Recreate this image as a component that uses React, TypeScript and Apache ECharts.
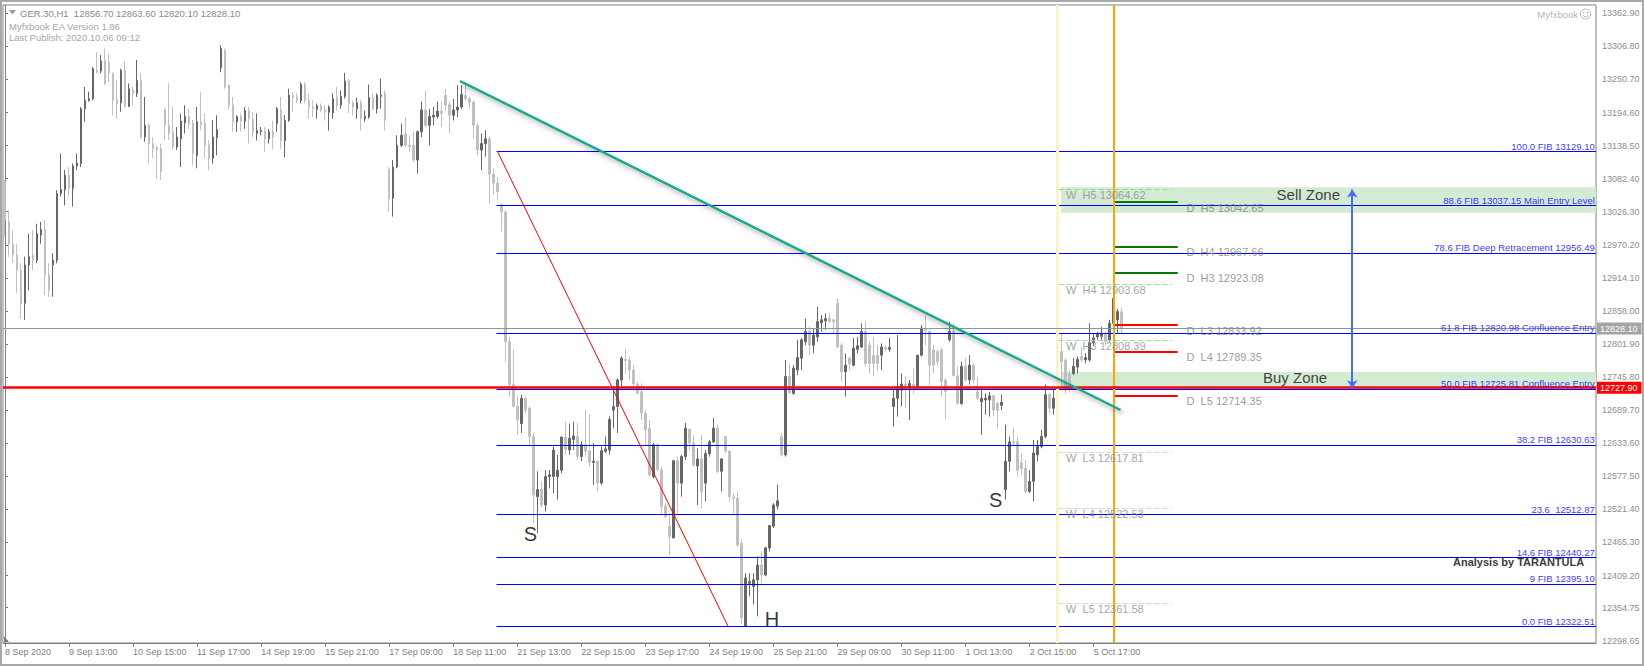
import React, { useEffect, useRef } from 'react';
import * as echarts from 'echarts';

// ---------- DATA ----------
const symbolName = 'GER.30,H1';
const eaVersion = 'Myfxbook EA Version 1.86';
const lastPublish = 'Last Publish: 2020.10.06 09:12';

// hourly candles: [open, close, low, high]
const ohlc: number[][] = [
  [13077,13012,12984,13080],[13009,12972,12950,13029],[12972,12953,12939,12995],[12953,12927,12888,12972],[12927,12871,12845,12939],[12871,12936,12843,12950],[12936,12950,12893,12989],[12953,12944,12927,12995],[12944,12989,12939,13006],[12987,12996,12972,13009],
  [12996,12919,12885,13012],[12919,12893,12882,12939],[12936,12944,12882,12956],[12944,13057,12939,13063],[13057,13064,13052,13125],[13064,13088,13037,13097],[13088,13066,13052,13102],[13066,13104,13035,13108],[13104,13109,13097,13125],[13108,13201,13102,13204],
  [13201,13215,13179,13238],[13215,13218,13213,13230],[13218,13269,13215,13272],[13267,13263,13261,13297],[13265,13282,13261,13292],[13283,13244,13241,13303],[13279,13262,13246,13294],[13261,13215,13190,13263],[13217,13210,13184,13249],[13211,13266,13196,13269],
  [13266,13205,13203,13282],[13205,13235,13204,13244],[13233,13227,13207,13238],[13227,13249,13221,13284],[13249,13153,13150,13261],[13153,13173,13145,13221],[13173,13142,13108,13176],[13142,13133,13117,13153],[13135,13132,13083,13139],[13133,13094,13080,13142],
  [13200,13173,13148,13203],[13173,13159,13148,13244],[13162,13136,13131,13204],[13136,13153,13131,13170],[13150,13180,13102,13193],[13177,13188,13159,13207],[13188,13175,13167,13201],[13177,13125,13105,13182],[13122,13179,13100,13204],[13179,13173,13165,13230],
  [13177,13139,13117,13193],[13139,13117,13097,13148],[13117,13153,13108,13182],[13152,13166,13122,13190],[13271,13303,13263,13309],[13300,13238,13235,13303],[13241,13207,13201,13243],[13207,13179,13162,13221],[13179,13188,13162,13190],[13188,13180,13162,13193],
  [13180,13198,13167,13204],[13198,13184,13142,13204],[13184,13162,13153,13195],[13159,13164,13147,13193],[13162,13164,13156,13170],[13164,13150,13128,13170],[13150,13162,13142,13167],[13162,13153,13133,13181],[13176,13201,13162,13204],[13199,13147,13133,13221],
  [13147,13181,13119,13190],[13181,13224,13179,13235],[13224,13220,13195,13229],[13221,13215,13210,13227],[13215,13242,13210,13246],[13242,13215,13210,13246],[13215,13204,13184,13227],[13205,13201,13187,13215],[13200,13206,13184,13210],[13206,13198,13195,13210],
  [13199,13195,13181,13207],[13195,13204,13164,13207],[13194,13218,13184,13227],[13220,13206,13198,13238],[13207,13222,13201,13232],[13222,13248,13218,13262],[13249,13210,13193,13252],[13211,13203,13190,13215],[13201,13211,13184,13220],[13211,13184,13164,13216],
  [13184,13188,13179,13198],[13187,13220,13184,13242],[13220,13201,13198,13227],[13201,13224,13193,13227],[13222,13224,13201,13252],[13227,13181,13164,13232],[13098,13049,13026,13102],[13049,13102,13018,13114],[13102,13139,13100,13156],[13139,13156,13136,13176],
  [13158,13139,13136,13187],[13139,13137,13128,13156],[13139,13114,13111,13162],[13114,13162,13091,13164],[13162,13199,13153,13213],[13199,13173,13170,13232],[13173,13188,13139,13201],[13187,13190,13173,13204],[13188,13197,13184,13213],[13197,13193,13170,13213],
  [13224,13207,13198,13235],[13208,13190,13159,13213],[13190,13199,13181,13218],[13199,13204,13187,13241],[13204,13225,13201,13241],[13224,13218,13215,13241],[13218,13211,13201,13221],[13212,13173,13150,13215],[13173,13131,13122,13176],[13131,13142,13097,13159],
  [13142,13150,13120,13165],[13150,13090,13040,13155],[13090,13075,13055,13100],[13075,13060,13045,13085],[13038,13026,12992,13040],[13026,12806,12772,13029],[12806,12733,12713,12814],[12733,12696,12696,12792],[12696,12673,12648,12713],[12667,12710,12651,12716],
  [12710,12690,12685,12713],[12693,12645,12628,12696],[12645,12546,12498,12651],[12543,12555,12481,12586],[12555,12529,12524,12569],[12529,12577,12518,12588],[12577,12580,12557,12588],[12577,12622,12549,12628],[12577,12588,12538,12614],[12588,12644,12583,12645],
  [12644,12623,12614,12670],[12622,12642,12614,12667],[12640,12646,12622,12670],[12645,12611,12605,12668],[12611,12631,12603,12637],[12631,12620,12611,12690],[12621,12601,12594,12682],[12601,12603,12563,12634],[12603,12566,12552,12605],[12566,12621,12563,12628],
  [12620,12624,12617,12645],[12622,12674,12614,12679],[12690,12696,12659,12730],[12696,12741,12651,12744],[12741,12778,12730,12781],[12776,12774,12752,12793],[12775,12758,12741,12781],[12758,12734,12730,12766],[12734,12718,12718,12738],[12721,12685,12673,12735],
  [12685,12656,12631,12690],[12659,12580,12577,12673],[12577,12631,12574,12634],[12631,12589,12586,12634],[12589,12526,12515,12594],[12527,12509,12507,12532],[12492,12475,12444,12515],[12473,12604,12473,12605],[12604,12566,12515,12611],[12566,12611,12543,12614],
  [12611,12659,12605,12668],[12657,12634,12622,12659],[12634,12597,12594,12648],[12595,12607,12529,12625],[12607,12552,12523,12648],[12566,12616,12535,12622],[12616,12636,12611,12639],[12636,12659,12634,12676],[12659,12586,12583,12665],[12586,12607,12552,12608],
  [12645,12620,12617,12646],[12620,12543,12535,12622],[12542,12540,12515,12549],[12540,12461,12458,12552],[12464,12337,12326,12470],[12323,12405,12322.5,12413],[12396,12399,12374,12413],[12391,12402,12360,12413],[12402,12427,12340,12442],[12427,12410,12396,12450],
  [12410,12456,12408,12458],[12456,12494,12450,12495],[12493,12529,12490,12532],[12527,12536,12521,12563],[12645,12614,12611,12651],[12614,12747,12611,12775],[12747,12719,12718,12769],[12718,12761,12716,12766],[12758,12779,12749,12809],[12778,12809,12758,12812],
  [12806,12823,12800,12845],[12823,12800,12783,12831],[12800,12817,12786,12829],[12814,12840,12806,12865],[12838,12843,12823,12851],[12841,12845,12826,12854],[12845,12840,12837,12854],[12843,12840,12820,12843],[12871,12797,12795,12879],[12800,12755,12738,12803],
  [12755,12766,12713,12786],[12778,12768,12758,12780],[12766,12795,12764,12812],[12793,12799,12786,12814],[12797,12823,12795,12837],[12823,12769,12764,12840],[12800,12769,12752,12806],[12783,12769,12747,12814],[12783,12769,12755,12800],[12783,12797,12758,12803],
  [12796,12793,12789,12800],[12793,12796,12789,12812],[12696,12710,12662,12724],[12710,12724,12679,12817],[12724,12734,12696,12752],[12734,12730,12693,12747],[12730,12735,12673,12741],[12734,12729,12718,12761],[12730,12783,12727,12783],[12783,12829,12781,12834],
  [12827,12825,12800,12851],[12823,12766,12732,12826],[12792,12766,12752,12800],[12789,12772,12764,12792],[12792,12738,12713,12795],[12741,12721,12676,12744],[12809,12823,12806,12840],[12823,12748,12747,12837],[12748,12701,12699,12764],[12701,12764,12699,12772],
  [12764,12741,12738,12778],[12741,12766,12733,12783],[12766,12741,12735,12769],[12721,12710,12707,12746],[12704,12710,12648,12727],[12707,12710,12682,12718],[12707,12714,12679,12721],[12714,12690,12679,12716],[12701,12689,12659,12704],[12698,12703,12690,12716],
  [12555,12603,12538,12665],[12603,12636,12586,12645],[12636,12634,12630,12660],[12636,12588,12577,12645],[12600,12591,12580,12617],[12591,12552,12549,12605],[12552,12569,12549,12588],[12569,12617,12535,12639],[12614,12628,12603,12639],[12628,12645,12625,12656],
  [12645,12716,12642,12733],[12716,12693,12684,12719],[12693,12710,12682,12727],[12710,12716,12684,12724],[12789,12772,12724,12820],[12775,12724,12718,12778],[12752,12730,12721,12758],[12752,12764,12749,12778],[12763,12776,12752,12781],[12781,12775,12772,12797],
  [12775,12779,12769,12786],[12775,12804,12772,12837],[12804,12812,12800,12820],[12814,12820,12809,12823],[12815,12820,12809,12831],[12820,12806,12800,12823],[12809,12837,12806,12843],[12837,12879,12831,12882],[12843,12857,12820,12861],[12856.7,12828.1,12820.1,12863.6],
];

const xTickLabels = [
  '8 Sep 2020', '9 Sep 13:00', '10 Sep 15:00', '11 Sep 17:00', '14 Sep 19:00', '15 Sep 21:00',
  '17 Sep 09:00', '18 Sep 11:00', '21 Sep 13:00', '22 Sep 15:00', '23 Sep 17:00', '24 Sep 19:00',
  '25 Sep 21:00', '29 Sep 09:00', '30 Sep 11:00', '1 Oct 13:00', '2 Oct 15:00', '5 Oct 17:00',
];
const yTicks = [
  13362.9, 13306.8, 13250.7, 13194.6, 13138.5, 13082.4, 13026.3, 12970.2, 12914.1, 12858.0,
  12801.9, 12745.8, 12689.7, 12633.6, 12577.5, 12521.4, 12465.3, 12409.2, 12354.75, 12298.65,
];

const fibLabels = [
  '100.0 FIB 13129.10', '88.6 FIB 13037.15 Main Entry Level', '78.6 FIB Deep Retracement 12956.49',
  '61.8 FIB 12820.98 Confluence Entry', '50.0 FIB 12725.81 Confluence Entry', '38.2 FIB 12630.63',
  '23.6  12512.87', '14.6 FIB 12440.27', '9 FIB 12395.10', '0.0 FIB 12322.51',
];
const fibPrices = [13129.1, 13037.15, 12956.49, 12820.98, 12725.81, 12630.63, 12512.87, 12440.27, 12395.1, 12322.51];

const dailyPivotNames = ['H5', 'H4', 'H3', 'L3', 'L4', 'L5'];
const dailyPivotPrices = [13042.65, 12967.66, 12923.08, 12833.92, 12789.35, 12714.35];
const weeklyPivotNames = ['H5', 'H4', 'H3', 'L3', 'L4', 'L5'];
const weeklyPivotPrices = [13064.62, 12903.68, 12808.39, 12617.81, 12522.53, 12361.58];

const lastPrice = 12828.1;
const keyLevel = 12727.9;

// zones [top, bottom] prices
const sellZone = [13067.7, 13024.7];
const buyZone = [12754.9, 12723.9];
// drawn lines in (bar index, price)
const trendLine = [[113.7, 13248], [278.7, 12690]];
const fibSwing = [[123.0, 13129.1], [180.7, 12322.51]];
const zoneArrow = [[336.6, 13064], [336.6, 12727]];
// pattern marks: [bar index, price, text]
const patternMarks: [number, number, string][] = [
  [131.3, 12479.6, 'S'],
  [191.6, 12336.3, 'H'],
  [247.5, 12536.8, 'S'],
];

// ---------- LAYOUT ----------
const SLOTS = 398;
const X_END = SLOTS - 0.5;
const Y_MIN = 12294.75;
const Y_MAX = 13377.0;
const FIB_START = 122.8;
const DAY_SEP = 262.8;
const NOW_LINE = 276.9;
const ZONE_LEFT = 263.8;
const D_RANGE = [276.9, 293.0];
const D_LABEL_X = 295.2;
const W_RANGE = [263.2, 291.5];
const W_LABEL_X = 265.1;
const SELL_TEXT = [317.7, 13054.7];
const BUY_TEXT = [314.3, 12744.3];

const FONT = '"Liberation Sans", Arial, sans-serif';

function buildOption() {
  const categories = Array.from({ length: SLOTS }, (_, i) => String(i));
  const tickInterval = (i: number) => i % 16 === 0 && i / 16 < xTickLabels.length;
  const last = ohlc[ohlc.length - 1];
  const header = `${symbolName}  ${last[0].toFixed(2)} ${last[3].toFixed(2)} ${last[2].toFixed(2)} ${last[1].toFixed(2)}`;

  const segs: any[] = [];
  fibPrices.forEach((p) => {
    segs.push([{ coord: [FIB_START, p], lineStyle: { color: '#0000ff', width: 1, type: 'solid' } }, { coord: [X_END, p] }]);
  });
  weeklyPivotPrices.forEach((p, i) => {
    const isH = weeklyPivotNames[i].startsWith('H');
    segs.push([{ coord: [W_RANGE[0], p], lineStyle: { color: isH ? '#8fe08f' : '#ffc4c4', width: 1, type: [5, 3] } }, { coord: [W_RANGE[1], p] }]);
  });
  dailyPivotPrices.forEach((p, i) => {
    const isH = dailyPivotNames[i].startsWith('H');
    segs.push([{ coord: [D_RANGE[0], p], lineStyle: { color: isH ? '#007a00' : '#ff0000', width: 2, type: 'solid' } }, { coord: [D_RANGE[1], p] }]);
  });
  segs.push({ xAxis: DAY_SEP, lineStyle: { color: '#fbf5c6', width: 3, type: 'solid' } });
  segs.push({ xAxis: NOW_LINE, lineStyle: { color: '#ffa500', width: 2, type: 'solid' } });
  segs.push({
    yAxis: lastPrice,
    lineStyle: { color: '#8797a7', width: 1, type: 'solid' },
    label: { show: true, position: 'end', distance: 1, formatter: lastPrice.toFixed(2), backgroundColor: '#a4a4a4', color: '#ffffff', fontSize: 9, fontFamily: FONT, padding: [2, 4, 1, 3] },
  });
  segs.push({
    yAxis: keyLevel,
    lineStyle: { color: '#ff0000', width: 2.5, type: 'solid' },
    label: { show: true, position: 'end', distance: 1, formatter: keyLevel.toFixed(2), backgroundColor: '#ff0000', color: '#ffffff', fontSize: 9, fontFamily: FONT, padding: [2, 4, 1, 3] },
  });
  segs.push([{ coord: fibSwing[0], lineStyle: { color: '#ff0000', width: 1, type: 'solid' } }, { coord: fibSwing[1] }]);
  segs.push([
    { coord: trendLine[0], lineStyle: { color: '#1aa88c', width: 2.5, type: 'solid', shadowColor: 'rgba(0,0,0,0.35)', shadowBlur: 4, shadowOffsetX: 2, shadowOffsetY: 3 } },
    { coord: trendLine[1] },
  ]);

  const texts: any[] = [];
  const addText = (x: number, y: number, text: string, o: any) => {
    texts.push({
      value: [x, y],
      label: { show: true, position: 'inside', formatter: text, fontFamily: FONT, textBorderWidth: 0, ...o },
    });
  };
  fibPrices.forEach((p, i) => addText(X_END - 0.3, p, fibLabels[i], { align: 'right', verticalAlign: 'bottom', color: '#0000ff', fontSize: 9.5 }));
  dailyPivotPrices.forEach((p, i) => addText(D_LABEL_X, p, `D  ${dailyPivotNames[i]} ${p.toFixed(2)}`, { align: 'left', verticalAlign: 'top', color: '#7f7f7f', fontSize: 11 }));
  weeklyPivotPrices.forEach((p, i) => addText(W_LABEL_X, p, `W  ${weeklyPivotNames[i]} ${p.toFixed(2)}`, { align: 'left', verticalAlign: 'top', color: '#8c8c8c', fontSize: 11 }));
  addText(SELL_TEXT[0], SELL_TEXT[1], 'Sell Zone', { align: 'left', verticalAlign: 'middle', color: '#111111', fontSize: 15 });
  addText(BUY_TEXT[0], BUY_TEXT[1], 'Buy Zone', { align: 'left', verticalAlign: 'middle', color: '#111111', fontSize: 15 });
  patternMarks.forEach(([x, y, t]) => addText(x, y, t, { align: 'center', verticalAlign: 'middle', color: '#000000', fontSize: 20 }));

  return {
    animation: false,
    backgroundColor: '#ffffff',
    grid: { left: 3, right: 48, top: 5, bottom: 23, show: true, borderColor: '#808080', borderWidth: 1, backgroundColor: 'transparent' },
    xAxis: [
      {
        type: 'category',
        data: categories,
        boundaryGap: true,
        axisLine: { lineStyle: { color: '#808080' } },
        axisTick: { show: true, alignWithLabel: true, interval: tickInterval, length: 4, lineStyle: { color: '#808080' } },
        axisLabel: {
          interval: tickInterval,
          align: 'left',
          margin: 4,
          color: '#808080',
          fontSize: 9,
          fontFamily: FONT,
          formatter: (v: string) => {
            const i = Number(v);
            return i % 16 === 0 && xTickLabels[i / 16] ? xTickLabels[i / 16] : '';
          },
        },
        splitLine: { show: false },
      },
      { type: 'value', min: -0.5, max: X_END, show: false },
    ],
    yAxis: {
      type: 'value',
      position: 'right',
      min: Y_MIN,
      max: Y_MAX,
      axisLine: { show: true, lineStyle: { color: '#808080' } },
      axisTick: { show: true, customValues: yTicks, length: 3, lineStyle: { color: '#808080' } },
      axisLabel: { customValues: yTicks, formatter: (v: number) => v.toFixed(2), color: '#8e8e8e', fontSize: 9, fontFamily: FONT, margin: 6 },
      splitLine: { show: false },
    },
    series: [
      {
        type: 'line',
        xAxisIndex: 1,
        data: [],
        silent: true,
        markArea: {
          silent: true,
          itemStyle: { color: '#d3ead3' },
          data: [
            [{ coord: [ZONE_LEFT, sellZone[0]] }, { coord: [X_END, sellZone[1]] }],
            [{ coord: [ZONE_LEFT, buyZone[0]] }, { coord: [X_END, buyZone[1]] }],
          ],
        },
      },
      {
        type: 'candlestick',
        xAxisIndex: 0,
        data: ohlc,
        barWidth: 2,
        silent: true,
        itemStyle: { color: '#666666', color0: '#c0c0c0', borderColor: '#666666', borderColor0: '#c0c0c0', borderWidth: 1 },
      },
      {
        type: 'line',
        xAxisIndex: 1,
        data: [],
        silent: true,
        markLine: {
          silent: true,
          symbol: ['none', 'none'],
          label: { show: false },
          lineStyle: { type: 'solid' },
          data: segs,
        },
      },
      {
        type: 'line',
        xAxisIndex: 1,
        data: [],
        silent: true,
        markLine: {
          silent: true,
          symbol: ['arrow', 'arrow'],
          symbolSize: 8,
          label: { show: false },
          lineStyle: { color: '#4a6cf2', width: 2, type: 'solid' },
          itemStyle: { color: '#4a6cf2' },
          data: [[
            { coord: zoneArrow[0], lineStyle: { color: '#4a6cf2', width: 2, type: 'solid' } },
            { coord: zoneArrow[1] },
          ]],
        },
      },
      {
        type: 'scatter',
        xAxisIndex: 1,
        z: 10,
        silent: true,
        symbolSize: 1,
        itemStyle: { color: 'rgba(0,0,0,0)' },
        emphasis: { disabled: true },
        data: texts,
      },
    ],
    graphic: [
      { type: 'rect', silent: true, z: 100, shape: { x: 1, y: 1, width: 1642, height: 664 }, style: { fill: 'none', stroke: '#a8a8a8', lineWidth: 2 } },
      { type: 'polygon', silent: true, shape: { points: [[9, 10], [16, 10], [12.5, 14.5]] }, style: { fill: '#9a9a9a' } },
      { type: 'polygon', silent: true, shape: { points: [[4, 642], [4, 636], [9, 642]] }, style: { fill: '#7a8a9a' } },
      { type: 'text', silent: true, x: 20, y: 13, style: { text: header, fill: '#8a8a8a', fontSize: 9.5, fontFamily: FONT, verticalAlign: 'middle' } },
      { type: 'text', silent: true, x: 9, y: 26, style: { text: eaVersion, fill: '#a6a6a6', fontSize: 9.5, fontFamily: FONT, verticalAlign: 'middle' } },
      { type: 'text', silent: true, x: 9, y: 37, style: { text: lastPublish, fill: '#a6a6a6', fontSize: 9.5, fontFamily: FONT, verticalAlign: 'middle' } },
      { type: 'text', silent: true, x: 1578, y: 14, style: { text: 'Myfxbook', fill: '#b4b4b4', fontSize: 9.5, fontFamily: FONT, align: 'right', verticalAlign: 'middle' } },
      { type: 'circle', silent: true, shape: { cx: 1585.5, cy: 14, r: 5 }, style: { fill: 'none', stroke: '#b4b4b4', lineWidth: 1 } },
      { type: 'circle', silent: true, shape: { cx: 1583.7, cy: 12.5, r: 0.8 }, style: { fill: '#b4b4b4' } },
      { type: 'circle', silent: true, shape: { cx: 1587.3, cy: 12.5, r: 0.8 }, style: { fill: '#b4b4b4' } },
      { type: 'arc', silent: true, shape: { cx: 1585.5, cy: 14, r: 2.8, startAngle: 0.4, endAngle: Math.PI - 0.4 }, style: { fill: 'none', stroke: '#b4b4b4', lineWidth: 1 } },
      { type: 'text', silent: true, x: 1453, y: 562, style: { text: 'Analysis by TARANTULA', fill: '#3c3c3c', fontSize: 11, fontWeight: 'bold', fontFamily: FONT, verticalAlign: 'middle' } },
    ],
  };
}

export default function App() {
  const ref = useRef<HTMLDivElement>(null);
  useEffect(() => {
    if (!ref.current) return;
    const chart = echarts.init(ref.current, undefined, { renderer: 'svg' });
    chart.setOption(buildOption() as any);
    return () => chart.dispose();
  }, []);
  return (
    <div
      ref={ref}
      style={{ position: 'fixed', left: 0, top: 0, width: 1644, height: 666, background: '#ffffff' }}
    />
  );
}
